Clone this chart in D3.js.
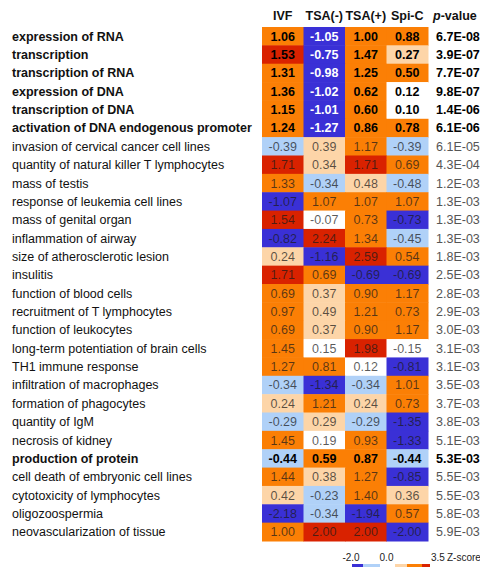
<!DOCTYPE html>
<html><head><meta charset="utf-8">
<script src="https://cdn.jsdelivr.net/npm/d3@7"></script>
<style>body{margin:0;background:#fff}svg{display:block;font-family:"Liberation Sans",Arial,sans-serif}</style>
</head><body><svg id="c" width="480" height="567"></svg>
<script>
const columns = ["IVF", "TSA(-)", "TSA(+)", "Spi-C"];
const labels = [
  "expression of RNA","transcription","transcription of RNA","expression of DNA","transcription of DNA",
  "activation of DNA endogenous promoter","invasion of cervical cancer cell lines","quantity of natural killer T lymphocytes",
  "mass of testis","response of leukemia cell lines","mass of genital organ","inflammation of airway",
  "size of atherosclerotic lesion","insulitis","function of blood cells","recruitment of T lymphocytes",
  "function of leukocytes","long-term potentiation of brain cells","TH1 immune response","infiltration of macrophages",
  "formation of phagocytes","quantity of IgM","necrosis of kidney","production of protein",
  "cell death of embryonic cell lines","cytotoxicity of lymphocytes","oligozoospermia","neovascularization of tissue"
];
const ivf   = [1.06,1.53,1.31,1.36,1.15,1.24,-0.39,1.71,1.33,-1.07,1.54,-0.82,0.24,1.71,0.69,0.97,0.69,1.45,1.27,-0.34,0.24,-0.29,1.45,-0.44,1.44,0.42,-2.18,1.00];
const tsaNeg= [-1.05,-0.75,-0.98,-1.02,-1.01,-1.27,0.39,0.34,-0.34,1.07,-0.07,2.24,-1.16,0.69,0.37,0.49,0.37,0.15,0.81,-1.34,1.21,0.29,0.19,0.59,0.38,-0.23,-0.34,2.00];
const tsaPos= [1.00,1.47,1.25,0.62,0.60,0.86,1.17,1.71,0.48,1.07,0.73,1.34,2.59,-0.69,0.90,1.21,0.90,1.98,0.12,-0.34,0.24,-0.29,0.93,0.87,1.27,1.40,-1.94,2.00];
const spiC  = [0.88,0.27,0.50,0.12,0.10,0.78,-0.39,0.69,-0.48,1.07,-0.73,-0.45,0.54,-0.69,1.17,0.73,1.17,-0.15,-0.81,1.01,0.73,-1.35,-1.33,-0.44,-0.85,0.36,0.57,-2.00];
const pvalues = ["6.7E-08","3.9E-07","7.7E-07","9.8E-07","1.4E-06","6.1E-06","6.1E-05","4.3E-04","1.2E-03","1.3E-03","1.3E-03","1.3E-03","1.8E-03","2.5E-03","2.8E-03","2.9E-03","3.0E-03","3.1E-03","3.1E-03","3.5E-03","3.7E-03","3.8E-03","5.1E-03","5.3E-03","5.5E-03","5.5E-03","5.8E-03","5.9E-03"];
const boldRows = ["expression of RNA","transcription","transcription of RNA","expression of DNA","transcription of DNA","activation of DNA endogenous promoter","production of protein"];
const thresholds = [-0.5,-0.2,0.2,0.5,1.5];
const palette = ["#3a30d6","#b0d1f8","#ffffff","#fdd5a8","#fb7f05","#d92200"];
const legendTicks = ["-2.0","0.0","3.5"];
const legendStops = [-2,-0.5,-0.2,0.2,0.5,1.5,3.5];

const series = [ivf, tsaNeg, tsaPos, spiC];
const svg = d3.select("#c");
const x = d3.scaleBand().domain(columns).range([262,428]);
const y = d3.scaleBand().domain(labels).range([27,541]);
const color = d3.scaleThreshold().domain(thresholds).range(palette);
const isBold = l => boldRows.includes(l);

const cells = [];
labels.forEach((l,i)=>columns.forEach((c,j)=>cells.push({l,c,v:series[j][i]})));

svg.selectAll("rect.cell").data(cells).join("rect").attr("class","cell")
  .attr("x",d=>x(d.c)).attr("y",d=>y(d.l)).attr("width",x.bandwidth()+0.5).attr("height",y.bandwidth()+0.5)
  .attr("fill",d=>color(d.v));

svg.selectAll("text.val").data(cells).join("text").attr("class","val")
  .attr("x",d=>x(d.c)+x.bandwidth()/2).attr("y",d=>y(d.l)+y.bandwidth()/2)
  .attr("dy","0.36em").attr("text-anchor","middle").attr("font-size",12.5)
  .attr("font-weight",d=>isBold(d.l)?"bold":"normal")
  .attr("fill",d=>isBold(d.l)?(d.v<=-0.5?"#fff":"#000"):"#1a1a1a")
  .attr("fill-opacity",d=>isBold(d.l)?1:0.72)
  .text(d=>d.v.toFixed(2));

svg.selectAll("text.lab").data(labels).join("text").attr("class","lab")
  .attr("x",12).attr("y",d=>y(d)+y.bandwidth()/2).attr("dy","0.36em")
  .attr("font-size",12.5).attr("font-weight",d=>isBold(d)?"bold":"normal")
  .attr("fill","#111").text(d=>d);

svg.selectAll("text.pv").data(labels).join("text").attr("class","pv")
  .attr("x",436).attr("y",d=>y(d)+y.bandwidth()/2).attr("dy","0.36em")
  .attr("font-size",12.5).attr("font-weight",d=>isBold(d)?"bold":"normal")
  .attr("fill",d=>isBold(d)?"#000":"#555").text((d,i)=>pvalues[i]);

svg.selectAll("text.hdr").data(columns).join("text").attr("class","hdr")
  .attr("x",d=>x(d)+x.bandwidth()/2).attr("y",20).attr("text-anchor","middle")
  .attr("font-size",12.5).attr("font-weight","bold").attr("fill","#111").text(d=>d);
const ph = svg.append("text").attr("x",433).attr("y",20).attr("font-size",12.5).attr("font-weight","bold").attr("fill","#111");
ph.append("tspan").attr("font-style","italic").text("p");
ph.append("tspan").text("-value");

// legend
const lx = d3.scaleLinear().domain(legendStops).range([352,363,380,395,407,422,430]);
const segs = d3.range(legendStops.length-1).map(i=>({a:legendStops[i],b:legendStops[i+1]}));
svg.selectAll("rect.leg").data(segs).join("rect").attr("class","leg")
  .attr("x",d=>lx(d.a)).attr("y",564).attr("width",d=>lx(d.b)-lx(d.a)).attr("height",4)
  .attr("fill",d=>color((d.a+d.b)/2));
svg.selectAll("text.lt").data(legendTicks).join("text").attr("class","lt")
  .attr("x",(d,i)=>i<2?lx(+d)-1:lx(+d)+1).attr("y",561)
  .attr("text-anchor",(d,i)=>i<2?"middle":"start").attr("font-size",10).attr("fill","#222").text(d=>d);
svg.append("text").attr("x",447).attr("y",561).attr("font-size",10).attr("fill","#222").text("Z-score");
</script></body></html>
